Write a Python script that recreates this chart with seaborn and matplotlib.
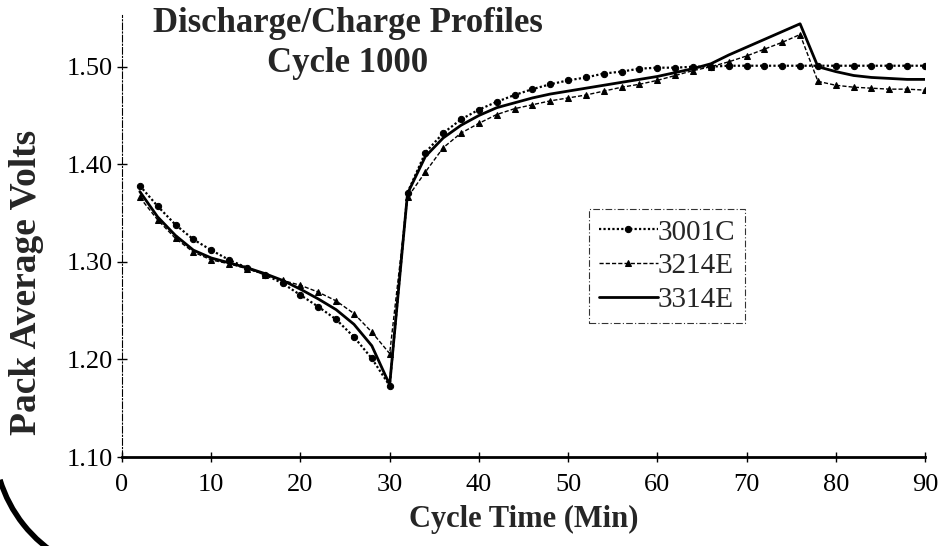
import numpy as np
import pandas as pd
import matplotlib
matplotlib.use("Agg")
import matplotlib.pyplot as plt
from matplotlib.patches import Arc
from matplotlib.transforms import IdentityTransform
import seaborn as sns

# ---- data ----
cycle_time = list(range(2, 92, 2))
v_3001c = [1.378, 1.357, 1.338, 1.323, 1.312, 1.302, 1.294, 1.287, 1.278, 1.266,
           1.254, 1.241, 1.223, 1.201, 1.173, 1.371, 1.412, 1.432, 1.446, 1.456,
           1.464, 1.471, 1.477, 1.482, 1.486, 1.489, 1.493, 1.495, 1.498, 1.499,
           1.499, 1.500, 1.500, 1.501, 1.501, 1.501, 1.501, 1.501, 1.501, 1.501,
           1.501, 1.501, 1.501, 1.501, 1.501]
v_3214e = [1.366, 1.343, 1.324, 1.310, 1.302, 1.298, 1.293, 1.287, 1.281, 1.276,
           1.269, 1.260, 1.247, 1.228, 1.206, 1.366, 1.392, 1.417, 1.432, 1.442,
           1.451, 1.457, 1.461, 1.465, 1.468, 1.471, 1.475, 1.479, 1.482, 1.486,
           1.491, 1.496, 1.500, 1.505, 1.511, 1.518, 1.525, 1.533, 1.485, 1.481,
           1.479, 1.478, 1.477, 1.477, 1.476]
v_3314e = [1.372, 1.346, 1.327, 1.312, 1.304, 1.299, 1.294, 1.288, 1.281, 1.272,
           1.262, 1.251, 1.236, 1.214, 1.174, 1.370, 1.408, 1.427, 1.440, 1.450,
           1.458, 1.463, 1.468, 1.472, 1.475, 1.478, 1.481, 1.484, 1.487, 1.490,
           1.494, 1.498, 1.503, 1.512, 1.520, 1.528, 1.536, 1.544, 1.500, 1.495,
           1.491, 1.489, 1.488, 1.487, 1.487]
series_names = ["3001C", "3214E", "3314E"]
x_ticks = [0, 10, 20, 30, 40, 50, 60, 70, 80, 90]
y_ticks = [1.10, 1.20, 1.30, 1.40, 1.50]
y_tick_labels = ["1.10", "1.20", "1.30", "1.40", "1.50"]

df = pd.DataFrame({
    "t": cycle_time * 3,
    "v": v_3001c + v_3214e + v_3314e,
    "series": [series_names[0]] * len(cycle_time) + [series_names[1]] * len(cycle_time)
              + [series_names[2]] * len(cycle_time),
})

sns.set_theme(style="white")
plt.rcParams["font.family"] = ["Liberation Serif", "DejaVu Serif"]

fig = plt.figure(figsize=(9.47, 5.46), dpi=100)
ax = fig.add_axes([122 / 947, 1 - 457 / 546, 803 / 947, (457 - 15) / 546])

styles = {
    "3001C": dict(linestyle=(0, (1, 1)), marker="o", markersize=4.5, linewidth=1.6),
    "3214E": dict(linestyle=(0, (3, 1.5)), marker="^", markersize=4.5, linewidth=1.0),
    "3314E": dict(linestyle="-", marker=None, linewidth=2.0),
}
for name in series_names:
    sub = df[df["series"] == name]
    sns.lineplot(data=sub, x="t", y="v", ax=ax, color="black", label=name,
                 markeredgecolor="black", markerfacecolor="black", **styles[name])

ax.set_xlim(0, 90)
ax.set_ylim(1.10, 1.553)
ax.set_xticks(x_ticks)
ax.set_xticklabels([str(t) for t in x_ticks])
ax.set_yticks(y_ticks)
ax.set_yticklabels(y_tick_labels)
ax.tick_params(axis="both", labelsize=19, colors="black", direction="inout",
               length=7, width=1, left=True, bottom=True)
ax.tick_params(axis="x", pad=9)
ax.tick_params(axis="y", pad=3)

for s in ["top", "right"]:
    ax.spines[s].set_visible(False)
ax.spines["left"].set_linestyle((0, (6, 2, 1, 2)))
ax.spines["left"].set_linewidth(0.8)
ax.spines["left"].set_color("black")
ax.spines["bottom"].set_linewidth(2.0)
ax.spines["bottom"].set_color("black")

ax.set_xlabel("Cycle Time (Min)", fontsize=22, fontweight="bold")
ax.xaxis.set_label_coords(0.5, -(505 - 457) / 442)
ax.set_ylabel("Pack Average Volts", fontsize=27, fontweight="bold")
ax.yaxis.set_label_coords(-(122 - 44) / 803, (457 - 282) / 442)

fig.text(348 / 947, 1 - 24 / 546, "Discharge/Charge Profiles", ha="center", va="center",
         fontsize=25, fontweight="bold")
fig.text(348 / 947, 1 - 63 / 546, "Cycle 1000", ha="center", va="center",
         fontsize=25, fontweight="bold")

leg = ax.legend(loc="upper left", bbox_to_anchor=((589 - 122) / 803, (457 - 209) / 442),
                frameon=True, fontsize=21, handlelength=2.0, handletextpad=0.0,
                borderpad=0.35, labelspacing=0.25, fancybox=False, borderaxespad=0)
leg.get_frame().set_edgecolor("black")
leg.get_frame().set_linewidth(0.8)
leg.get_frame().set_linestyle((0, (6, 2, 1, 2)))

# scan artifact: binder-hole edge in lower left corner
fig.add_artist(Arc((130, 106), 272, 272, theta1=197, theta2=240,
                   transform=IdentityTransform(), color="black", linewidth=4))

fig.savefig("out.png", dpi=100, facecolor="white")
